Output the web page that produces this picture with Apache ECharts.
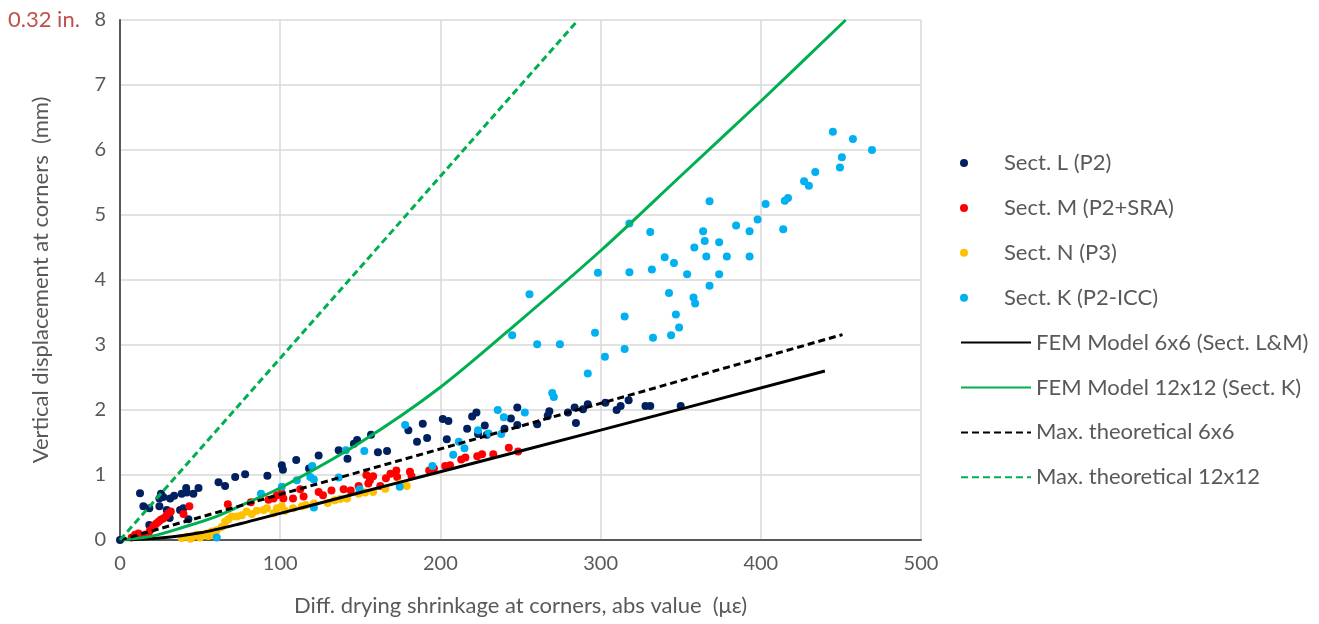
<!DOCTYPE html>
<html><head><meta charset="utf-8">
<script src="https://cdn.jsdelivr.net/npm/echarts@6/dist/echarts.min.js"></script>
<style>html,body{margin:0;padding:0;background:#fff}#c{width:1319px;height:624px}</style>
</head><body><div id="c"></div>
<script>
const seriesNames = ['Sect. L (P2)','Sect. M (P2+SRA)','Sect. N (P3)','Sect. K (P2-ICC)','FEM Model 6x6 (Sect. L&M)','FEM Model 12x12 (Sect. K)','Max. theoretical 6x6','Max. theoretical 12x12'];
const xTicks = [0,100,200,300,400,500];
const yTicks = [0,1,2,3,4,5,6,7,8];

const sectL = [[0,0],[12.5,0.72],[14.6,0.52],[18.3,0.49],[18.3,0.23],[24.6,0.64],[25.6,0.71],[27,0.66],[24.6,0.52],[29.2,0.46],[31,0.34],[31.3,0.64],[33.8,0.68],[37.5,0.46],[38.5,0.71],[39.6,0.49],[41.3,0.80],[41.7,0.73],[42.7,0.32],[45.8,0.71],[49,0.80],[61.5,0.89],[65.6,0.83],[71.9,0.97],[78.1,1.01],[92,0.99],[101,1.15],[101.7,1.08],[110,1.23],[118,1.10],[124,1.30],[136.5,1.38],[142,1.25],[146,1.48],[148,1.54],[156.7,1.62],[161,1.35],[166.7,1.37],[180,1.69],[185.4,1.51],[189,1.79],[191.7,1.57],[201.5,1.86],[204,1.55],[205,1.83],[216.7,1.71],[219.8,1.90],[222.5,1.96],[223.5,1.63],[227.7,1.76],[229,1.62],[240,1.71],[244,1.87],[248,2.04],[248,1.77],[260.4,1.78],[267,1.91],[268,1.98],[279.6,1.96],[283.8,2.04],[284.6,1.80],[289,2.01],[292,2.09],[303,2.11],[310,2.00],[312.5,2.06],[317.5,2.15],[328,2.06],[331,2.06],[350,2.06]];
const sectM = [[7.3,0.04],[9.4,0.08],[11.5,0.10],[13.5,0.06],[15.6,0.08],[17.7,0.10],[18.8,0.15],[20.8,0.21],[22.5,0.25],[24,0.28],[25.4,0.31],[27,0.33],[28.8,0.37],[30.2,0.41],[31.7,0.44],[39.6,0.40],[43.3,0.52],[67.3,0.55],[81.7,0.58],[92.7,0.62],[95.8,0.64],[98,0.69],[101,0.72],[102,0.64],[108,0.64],[112.5,0.78],[114.6,0.67],[124,0.74],[126.7,0.69],[132,0.76],[139.6,0.78],[144,0.76],[149,0.83],[153.8,1.0],[155,0.87],[156,0.92],[158,0.98],[162.5,0.83],[166,0.95],[168.8,1.02],[172.5,1.07],[173,0.97],[181,1.05],[182,0.98],[193,1.07],[196,1.10],[203,1.14],[206,1.15],[213,1.24],[215.6,1.27],[223,1.29],[226,1.32],[233,1.32],[242.7,1.42],[248.5,1.36]];
const sectN = [[38.5,0.03],[42,0.05],[44,0.02],[45.4,0.05],[48,0.08],[50,0.04],[51,0.08],[54,0.10],[55,0.06],[57.3,0.13],[58,0.08],[60.4,0.15],[63.5,0.20],[65.6,0.28],[67.7,0.32],[69.8,0.36],[73,0.36],[76,0.38],[79,0.44],[82.3,0.40],[85.4,0.45],[89.6,0.46],[91.7,0.49],[95.8,0.41],[98,0.49],[101,0.52],[103,0.45],[108,0.49],[113.5,0.52],[116,0.54],[121,0.56],[129.6,0.57],[134,0.61],[137.5,0.63],[141.7,0.64],[149,0.71],[153,0.73],[158,0.74],[165.6,0.79],[175,0.87],[179,0.83]];
const sectK = [[60.4,0.04],[88,0.71],[101,0.82],[110.4,0.92],[118.8,0.97],[120,1.14],[121,0.93],[121,0.50],[136.5,0.96],[141,1.38],[149.6,0.78],[152.5,1.37],[174.6,0.82],[178,1.77],[195,1.14],[208,1.31],[211.5,1.51],[215,1.41],[223.5,1.69],[230,1.64],[235.8,2.0],[238,1.63],[239.6,1.89],[244.8,3.15],[252.7,1.96],[255.6,3.78],[260.4,3.01],[269.8,2.26],[270.8,2.20],[274.6,3.01],[292,2.56],[296.5,3.19],[298.3,4.11],[302.7,2.82],[315,3.44],[315,2.94],[318,4.87],[318,4.12],[331,4.74],[332,4.16],[332.7,3.11],[340,4.35],[342.7,3.80],[344,3.15],[345.8,4.26],[347,3.47],[349,3.27],[354,4.09],[358,3.73],[358.5,4.50],[359,3.64],[364,4.75],[365,4.60],[366,4.36],[368,5.21],[368,3.91],[374,4.58],[374,4.09],[378.8,4.36],[384.6,4.84],[393,4.75],[393,4.36],[398,4.93],[403,5.17],[414,4.78],[415,5.22],[417,5.26],[427,5.52],[430,5.45],[434,5.66],[445,6.28],[449.4,5.73],[450.6,5.89],[457.5,6.17],[469.4,6.0]];
const fem6 = [[0,0],[25,0.03],[50,0.11],[75,0.25],[100,0.41],[150,0.73],[200,1.05],[300,1.69],[440,2.6]];
const fem12 = [[0,0],[20,0.06],[40,0.2],[60,0.36],[80,0.58],[100,0.8],[150,1.5],[200,2.35],[250,3.38],[300,4.45],[350,5.6],[400,6.75],[453,8]];
const max6 = [[0,0],[451,3.16]];
const max12 = [[0,0],[286,8]];

const FONT = 'Lato';
const GRAY = '#595959';
const scatterColors = ['#002060','#FF0000','#FFC000','#00B0F0'];
const scatterData = [sectL, sectM, sectN, sectK];
const lineData = [fem6, fem12, max6, max12];
const lineColors = ['#000000','#00B050','#000000','#00B050'];
const lineTypes = ['solid','solid',[7,4],[7,4]];

const series = [];
scatterData.forEach((d,i)=>{
  series.push({name: seriesNames[i], type:'scatter', data:d, symbol:'circle', symbolSize:8,
    itemStyle:{color:scatterColors[i], opacity:1}, z:2});
});
lineData.forEach((d,i)=>{
  series.push({name: seriesNames[4+i], type:'line', data:d, smooth: d.length>2 ? 0.3 : false,
    showSymbol:false, symbol:'none', lineStyle:{color:lineColors[i], width:3, type:lineTypes[i]},
    itemStyle:{color:lineColors[i]}, z:3});
});

const legends = seriesNames.map((n,i)=>{
  const lg = {
    data:[n], orient:'vertical', left: 960, top: 163 + 44.9*i - 13,
    itemWidth:70, itemHeight:8, padding:0,
    textStyle:{fontFamily:FONT, fontSize:22, color:GRAY, lineHeight:26},
    selectedMode:false
  };
  if (i >= 4) lg.itemStyle = {color:'rgba(0,0,0,0)', borderWidth:0, opacity:0};
  return lg;
});

const chart = echarts.init(document.getElementById('c'), null, {renderer:'canvas'});
chart.setOption({
  animation:false,
  backgroundColor:'#fff',
  grid:{left:120, right:398, top:20, bottom:84, containLabel:false},
  xAxis:{type:'value', min:xTicks[0], max:xTicks[xTicks.length-1], interval:100,
    name:'Diff. drying shrinkage at corners, abs value  (με)', nameLocation:'middle', nameGap:55,
    nameTextStyle:{fontFamily:FONT, fontSize:22, color:GRAY},
    axisLine:{show:true, onZero:false, lineStyle:{color:GRAY, width:2}},
    axisTick:{show:false},
    axisLabel:{fontFamily:FONT, fontSize:20, color:GRAY, margin:14},
    splitLine:{show:true, lineStyle:{color:'#d9d9d9', width:1.5}}},
  yAxis:{type:'value', min:yTicks[0], max:yTicks[yTicks.length-1], interval:1,
    name:'Vertical displacement at corners  (mm)', nameLocation:'middle', nameGap:68,
    nameTextStyle:{fontFamily:FONT, fontSize:22, color:GRAY},
    axisLine:{show:true, onZero:false, lineStyle:{color:GRAY, width:2}},
    axisTick:{show:false},
    axisLabel:{fontFamily:FONT, fontSize:20, color:GRAY, margin:14},
    splitLine:{show:true, lineStyle:{color:'#d9d9d9', width:1.5}}},
  legend: legends,
  graphic:[{type:'text', left:8, top:9, style:{text:'0.32 in.', fontFamily:FONT, fontSize:22, fill:'#C0504D'}}],
  series: series
});
</script></body></html>
